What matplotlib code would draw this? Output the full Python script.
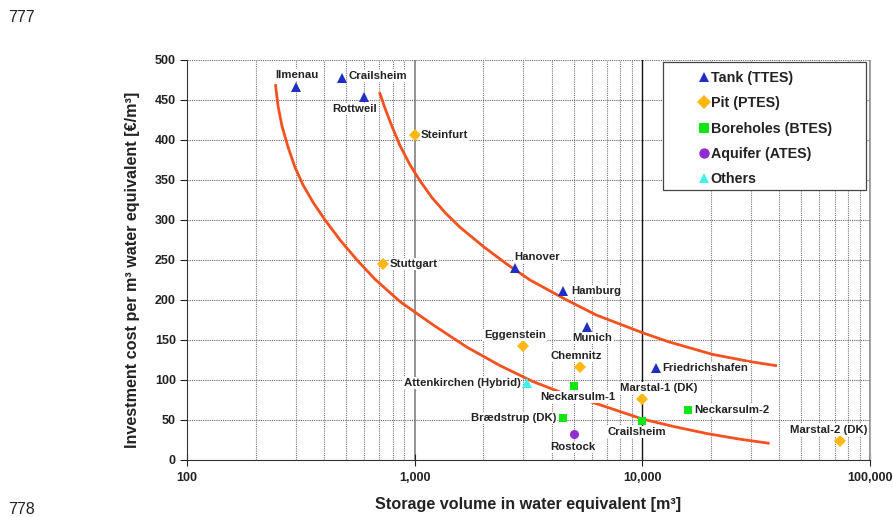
import matplotlib
matplotlib.use("Agg")
import matplotlib.pyplot as plt
from matplotlib.patches import Rectangle
from matplotlib.ticker import FixedLocator, FixedFormatter, LogLocator, NullFormatter

plt.rcParams["font.family"] = ["Liberation Sans", "DejaVu Sans"]

# ---- data: storage volume [m3] and investment cost [EUR/m3] ----
tank_names = ["Ilmenau", "Crailsheim", "Rottweil", "Hanover", "Hamburg", "Munich", "Friedrichshafen"]
tank_volume = [300, 480, 600, 2750, 4500, 5700, 11500]
tank_cost = [466, 478, 454, 240, 211, 166, 115]

pit_names = ["Steinfurt", "Stuttgart", "Eggenstein", "Chemnitz", "Marstal-1 (DK)", "Marstal-2 (DK)"]
pit_volume = [1000, 725, 3000, 5300, 10000, 74000]
pit_cost = [406, 245, 143, 116, 76, 24]

bore_names = ["Neckarsulm-1", "Brædstrup (DK)", "Crailsheim", "Neckarsulm-2"]
bore_volume = [5000, 4500, 10000, 15800]
bore_cost = [92, 52, 49, 62]

aquifer_names = ["Rostock"]
aquifer_volume = [5000]
aquifer_cost = [32]

other_names = ["Attenkirchen (Hybrid)"]
other_volume = [3100]
other_cost = [96]

# cost trend curves
upper_curve_volume = [704, 740, 795, 862, 954, 1055, 1191, 1373, 1581, 2000, 2535,
                      3210, 4650, 6300, 10030, 12960, 20330, 29700, 38500]
upper_curve_cost = [458, 440, 417, 393, 369, 349, 328, 308, 291, 267, 245,
                    225, 200, 181, 159, 148, 132, 123, 118]
lower_curve_volume = [245, 251, 261, 278, 298, 323, 358, 404, 470, 558, 669, 862,
                      1203, 1697, 2370, 3308, 4346, 6514, 10060, 13630, 19220, 26830, 35730]
lower_curve_cost = [468, 443, 418, 391, 366, 344, 322, 300, 275, 250, 226, 198,
                    169, 141, 118, 98, 85, 69, 51, 42, 33, 26, 21]

x_ticks = [100, 1000, 10000, 100000]
x_tick_labels = ["100", "1,000", "10,000", "100,000"]
y_ticks = [0, 50, 100, 150, 200, 250, 300, 350, 400, 450, 500]

# ---- label placement (offset in points, horizontal alignment) ----
tank_layout = [((0.7, 8.6), "center"), ((4.3, 1.2), "left"), ((-6.5, -8.6), "center"),
               ((0, 7.9), "left"), ((5.8, 0), "left"), ((3.6, -7.9), "center"),
               ((4.3, 0), "left")]
pit_layout = [((4.3, 0), "left"), ((5, 0), "left"), ((-5.8, 7.9), "center"),
              ((-2.2, 7.9), "center"), ((11.5, 7.9), "center"), ((-7.9, 7.9), "center")]
bore_layout = [((2.9, -7.9), "center"), ((-5, 0), "right"), ((-4.3, -7.9), "center"),
               ((5, 0), "left")]
aquifer_layout = [((-0.7, -9.4), "center")]
other_layout = [((-4.3, 0), "right")]

fig = plt.figure(figsize=(8.93, 5.17), dpi=100)
ax = fig.add_axes([0.2094, 0.1103, 0.7648, 0.7737])

curve_color = "#F4511E"
ax.plot(upper_curve_volume, upper_curve_cost, color=curve_color, lw=2.0, zorder=3,
        solid_joinstyle="round")
ax.plot(lower_curve_volume, lower_curve_cost, color=curve_color, lw=2.0, zorder=3,
        solid_joinstyle="round")

series = [
    (tank_names, tank_volume, tank_cost, tank_layout, "^", "#1F2FC4", 6.5, "Tank (TTES)"),
    (pit_names, pit_volume, pit_cost, pit_layout, "D", "#FFB812", 5.8, "Pit (PTES)"),
    (bore_names, bore_volume, bore_cost, bore_layout, "s", "#12E612", 6.3, "Boreholes (BTES)"),
    (aquifer_names, aquifer_volume, aquifer_cost, aquifer_layout, "o", "#8E2ED0", 6.5, "Aquifer (ATES)"),
    (other_names, other_volume, other_cost, other_layout, "^", "#3FF2F2", 6.5, "Others"),
]

label_font = dict(fontsize=8.2, fontweight="bold", color="#222222")
for names, vols, costs, layout, marker, color, ms, legend_label in series:
    ax.plot(vols, costs, linestyle="none", marker=marker, color=color,
            markersize=ms, markeredgewidth=0, label=legend_label, zorder=4)
    for name, v, c, (offset, ha) in zip(names, vols, costs, layout):
        ax.annotate(name, (v, c), xytext=offset, textcoords="offset points",
                    ha=ha, va="center", zorder=5,
                    bbox=dict(boxstyle="square,pad=0.08", fc="white", ec="none"),
                    **label_font)

ax.set_xscale("log")
ax.set_xlim(100, 100000)
ax.set_ylim(0, 500)

ax.xaxis.set_major_locator(FixedLocator(x_ticks))
ax.xaxis.set_major_formatter(FixedFormatter(x_tick_labels))
ax.xaxis.set_minor_locator(LogLocator(base=10, subs=range(2, 10)))
ax.xaxis.set_minor_formatter(NullFormatter())
ax.yaxis.set_major_locator(FixedLocator(y_ticks))

# grid
ax.grid(which="minor", axis="x", color="#777777", linestyle=(0, (1, 1)), lw=0.8)
ax.grid(which="major", axis="x", color="#8a8a8a", linestyle="-", lw=1.3)
ax.grid(which="major", axis="y", color="#666666", linestyle=(0, (1, 1)), lw=0.8)
ax.set_axisbelow(True)
# the decade line at 10,000 is drawn darker
major_xgrid = ax.get_xgridlines()
major_xgrid[2].set_color("#111111")
major_xgrid[2].set_linewidth(1.0)

ax.spines["top"].set_visible(False)
ax.spines["right"].set_color("#aaaaaa")
ax.spines["right"].set_linewidth(0.8)
ax.spines["left"].set_color("#333333")
ax.spines["bottom"].set_color("#333333")

ax.tick_params(axis="y", which="major", direction="out", length=5, width=0.8,
               labelsize=9, colors="#222222", pad=3)
ax.tick_params(axis="x", which="major", direction="inout", length=8, width=0.8,
               labelsize=9, colors="#222222", pad=5)
ax.tick_params(axis="x", which="minor", length=0)
for lbl in ax.get_xticklabels() + ax.get_yticklabels():
    lbl.set_fontweight("bold")

ax.set_xlabel("Storage volume in water equivalent [m³]", fontsize=11.6,
              fontweight="bold", color="#222222", labelpad=9)
ax.set_ylabel("Investment cost per m³ water equivalent [€/m³]", fontsize=11.6,
              fontweight="bold", color="#222222")
ax.yaxis.set_label_coords(-0.069, 0.475)

# legend: framed box with the entries set in from its left edge
ax.add_patch(Rectangle((0.697, 0.675), 0.297, 0.32, transform=ax.transAxes,
                       facecolor="white", edgecolor="#444444", linewidth=0.9,
                       zorder=6))
leg = ax.legend(loc="upper left", bbox_to_anchor=(0.750, 0.972), frameon=False,
                prop=dict(size=10.3, weight="bold"), handlelength=0.6,
                handletextpad=0.2, labelspacing=0.79, borderpad=0,
                borderaxespad=0, markerscale=1.15)
leg.set_zorder(7)
for t in leg.get_texts():
    t.set_color("#222222")

# document line numbers
fig.text(8 / 893, 1 - 18 / 517, "777", fontsize=11.5, color="#222222",
         va="center", ha="left")
fig.text(8 / 893, 1 - 509 / 517, "778", fontsize=11.5, color="#222222",
         va="center", ha="left")

fig.savefig("out.png", dpi=100)
